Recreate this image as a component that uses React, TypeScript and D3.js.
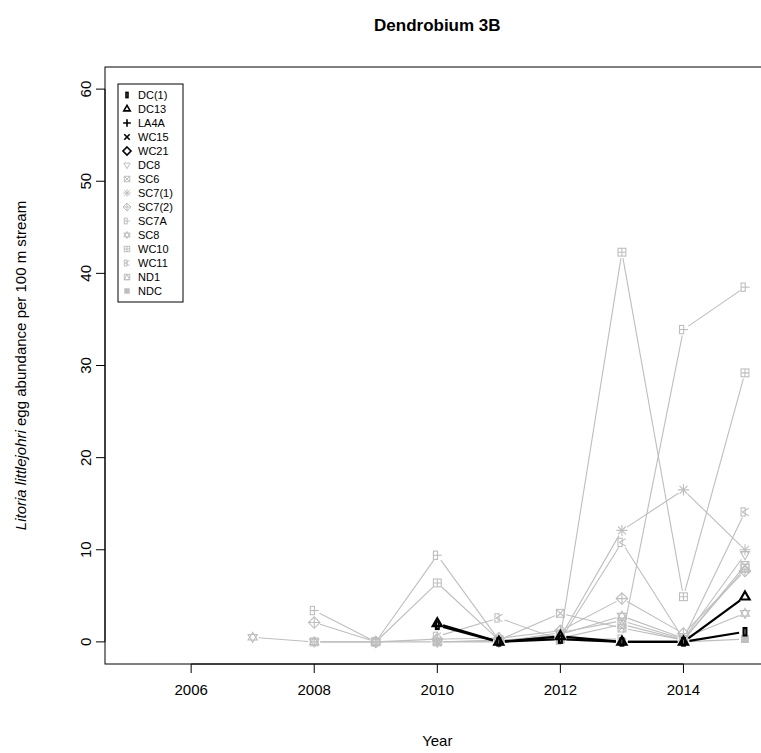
import React from 'react';
import * as d3 from 'd3';

// survey years and sites
const years = [2007, 2008, 2009, 2010, 2011, 2012, 2013, 2014, 2015];
const siteNames = ['DC(1)', 'DC13', 'LA4A', 'WC15', 'WC21', 'DC8', 'SC6', 'SC7(1)', 'SC7(2)', 'SC7A', 'SC8', 'WC10', 'WC11', 'ND1', 'NDC'];
const sitePch = [1, 2, 3, 4, 5, 6, 7, 8, 9, 10, 11, 12, 13, 14, 15];
const siteColors = ['#000000', '#000000', '#000000', '#000000', '#000000',
  '#bebebe', '#bebebe', '#bebebe', '#bebebe', '#bebebe', '#bebebe', '#bebebe', '#bebebe', '#bebebe', '#bebebe'];

// egg abundance per 100 m (null = not surveyed)
const DC1 = [null, null, null, 1.8, 0, 0.3, 0, 0, 1.1];
const DC13 = [null, null, null, 2.0, 0, 0.6, 0, 0, 4.9];
const LA4A = [null, null, null, null, null, null, null, null, null];
const WC15 = [null, null, null, null, null, null, null, null, null];
const WC21 = [null, null, null, null, null, null, null, null, null];
const DC8 = [null, null, null, null, 0, 1.0, 2.3, 0.3, 9.5];
const SC6 = [null, null, null, 0, 0.2, 3.1, 1.5, 0.2, 8.3];
const SC7_1 = [null, null, null, 0, 0.1, 0.5, 12.1, 16.5, 10.0];
const SC7_2 = [null, 2.1, 0, 0.3, 0.4, 1.2, 4.7, 0.9, 7.7];
const SC7A = [null, 3.4, 0, 9.4, 0.2, 0.3, 0.3, 33.9, 38.5];
const SC8 = [0.5, 0, 0, 0, 0, 0.8, 2.8, 0.4, 3.1];
const WC10 = [null, 0, 0, 6.4, 0.2, 0.5, 42.3, 4.9, 29.2];
const WC11 = [null, null, null, 0.6, 2.6, 0.2, 10.8, 0.3, 14.1];
const ND1 = [null, null, null, null, 0.1, 0.4, 1.9, 0.2, 8.0];
const NDC = [null, null, null, null, null, 0.2, 0, 0, 0.3];

const siteValues = [DC1, DC13, LA4A, WC15, WC21, DC8, SC6, SC7_1, SC7_2, SC7A, SC8, WC10, WC11, ND1, NDC];

const yTicks = [0, 10, 20, 30, 40, 50, 60];
const xTicks = [2006, 2008, 2010, 2012, 2014];

const W = 761;
const H = 753;
const box = { left: 105, right: 769.6, top: 67, bottom: 664 };

const font = '"Liberation Sans", Arial, Helvetica, sans-serif';

// R style plotting symbols
function Marker({ pch, cx, cy, r, color, sw }) {
  const p = { stroke: color, strokeWidth: sw, fill: 'none' };
  const sq = (k) => <rect x={cx - r * k} y={cy - r * k} width={2 * r * k} height={2 * r * k} {...p} />;
  const plus = (k) => <path d={`M${cx - r * k},${cy}H${cx + r * k}M${cx},${cy - r * k}V${cy + r * k}`} {...p} />;
  const cross = (k) => <path d={`M${cx - r * k},${cy - r * k}L${cx + r * k},${cy + r * k}M${cx - r * k},${cy + r * k}L${cx + r * k},${cy - r * k}`} {...p} />;
  const triUp = `M${cx},${cy - r * 1.15}L${cx + r},${cy + r * 0.6}L${cx - r},${cy + r * 0.6}Z`;
  const triDown = `M${cx},${cy + r * 1.15}L${cx + r},${cy - r * 0.6}L${cx - r},${cy - r * 0.6}Z`;
  const diamond = `M${cx},${cy - r * 1.25}L${cx + r * 1.25},${cy}L${cx},${cy + r * 1.25}L${cx - r * 1.25},${cy}Z`;
  switch (pch) {
    case 1:
      return <rect x={cx - r * 0.3} y={cy - r * 0.8} width={r * 0.6} height={r * 1.6} {...p} />;
    case 2:
      return <path d={triUp} {...p} />;
    case 3:
      return plus(1.2);
    case 4:
      return cross(0.85);
    case 5:
      return <path d={diamond} {...p} />;
    case 6:
      return <path d={triDown} {...p} />;
    case 7:
      return <g>{sq(0.85)}{cross(0.85)}</g>;
    case 8:
      return <g>{plus(1.2)}{cross(0.85)}</g>;
    case 9:
      return <g><path d={diamond} {...p} />{plus(1.25)}</g>;
    case 10:
      return <g>
        <rect x={cx - r * 0.85} y={cy - r * 0.9} width={r * 0.9} height={r * 1.8} {...p} />
        <path d={`M${cx - r * 0.85},${cy}H${cx + r}`} {...p} />
      </g>;
    case 11:
      return <g><path d={`M${cx},${cy - r * 1.1}L${cx + r},${cy + r * 0.6}L${cx - r},${cy + r * 0.6}Z`} {...p} />
        <path d={`M${cx},${cy + r * 1.1}L${cx + r},${cy - r * 0.6}L${cx - r},${cy - r * 0.6}Z`} {...p} /></g>;
    case 12:
      return <g>{sq(0.85)}{plus(0.85)}</g>;
    case 13:
      return <g>
        <rect x={cx - r * 0.85} y={cy - r * 0.9} width={r * 0.9} height={r * 1.8} {...p} />
        <path d={`M${cx - r * 0.6},${cy}L${cx + r * 0.8},${cy - r * 0.8}M${cx - r * 0.6},${cy}L${cx + r * 0.8},${cy + r * 0.8}`} {...p} />
      </g>;
    case 14:
      return <g>{sq(0.85)}<path d={`M${cx},${cy - r * 0.85}L${cx + r * 0.85},${cy + r * 0.85}L${cx - r * 0.85},${cy + r * 0.85}Z`} {...p} /></g>;
    case 15:
      return <rect x={cx - r * 0.85} y={cy - r * 0.85} width={r * 1.7} height={r * 1.7} fill={color} stroke="none" />;
    default:
      return sq(0.85);
  }
}

export default function App() {
  const x = d3.scaleLinear().domain([2004.6, 2015.4]).range([box.left, box.right]);
  const y = d3.scaleLinear().domain([-2.4, 62.4]).range([box.bottom, box.top]);

  const gap = 6;
  // type = "b": segments between adjacent points, cut short around the symbols
  const segments = [];
  siteValues.forEach((vals, si) => {
    for (let i = 0; i < vals.length - 1; i++) {
      const a = vals[i];
      const b = vals[i + 1];
      if (a === null || b === null) continue;
      const x1 = x(years[i]), y1 = y(a), x2 = x(years[i + 1]), y2 = y(b);
      const len = Math.hypot(x2 - x1, y2 - y1);
      if (len <= 2 * gap) continue;
      const ux = (x2 - x1) / len, uy = (y2 - y1) / len;
      segments.push({
        key: `${si}-${i}`, si,
        x1: x1 + ux * gap, y1: y1 + uy * gap, x2: x2 - ux * gap, y2: y2 - uy * gap
      });
    }
  });

  const points = [];
  siteValues.forEach((vals, si) => {
    vals.forEach((v, i) => {
      if (v !== null) points.push({ key: `${si}-${i}`, si, cx: x(years[i]), cy: y(v) });
    });
  });

  // draw grey sites first so the black ones sit on top
  const order = (si) => (siteColors[si] === '#000000' ? 1 : 0);
  segments.sort((a, b) => order(a.si) - order(b.si));
  points.sort((a, b) => order(a.si) - order(b.si));

  const legendX = 118, legendY = 84, legendW = 65, legendStep = 14;

  return (
    <svg width={W} height={H} style={{ position: 'absolute', left: 0, top: 0, background: '#fff' }} fontFamily={font}>
      <rect x={0} y={0} width={W} height={H} fill="#fff" />
      <text x={(box.left + box.right) / 2} y={31} textAnchor="middle" fontWeight="bold" fontSize={17}>Dendrobium 3B</text>

      <defs>
        <clipPath id="plotClip">
          <rect x={box.left} y={box.top} width={box.right - box.left} height={box.bottom - box.top} />
        </clipPath>
      </defs>

      <g clipPath="url(#plotClip)">
        {segments.map((s) => (
          <line key={s.key} x1={s.x1} y1={s.y1} x2={s.x2} y2={s.y2}
            stroke={siteColors[s.si]} strokeWidth={siteColors[s.si] === '#000000' ? 2.2 : 1.1} />
        ))}
        {points.map((p) => (
          <Marker key={p.key} pch={sitePch[p.si]} cx={p.cx} cy={p.cy} r={4.6}
            color={siteColors[p.si]} sw={siteColors[p.si] === '#000000' ? 2.2 : 1.1} />
        ))}
      </g>

      {/* box */}
      <rect x={box.left} y={box.top} width={box.right - box.left} height={box.bottom - box.top} fill="none" stroke="#000" strokeWidth={1} />

      {/* y axis */}
      <line x1={box.left} x2={box.left} y1={y(0)} y2={y(60)} stroke="#000" />
      {yTicks.map((t) => (
        <g key={t}>
          <line x1={box.left - 9} x2={box.left} y1={y(t)} y2={y(t)} stroke="#000" />
          <text transform={`translate(${box.left - 14},${y(t)}) rotate(-90)`} textAnchor="middle" fontSize={15}>{t}</text>
        </g>
      ))}

      {/* x axis */}
      <line x1={x(2006)} x2={x(2014)} y1={box.bottom} y2={box.bottom} stroke="#000" />
      {xTicks.map((t) => (
        <g key={t}>
          <line x1={x(t)} x2={x(t)} y1={box.bottom} y2={box.bottom + 9} stroke="#000" />
          <text x={x(t)} y={box.bottom + 31} textAnchor="middle" fontSize={15}>{t}</text>
        </g>
      ))}

      <text x={(box.left + box.right) / 2} y={746} textAnchor="middle" fontSize={15}>Year</text>
      <text transform={`translate(26,${(box.top + box.bottom) / 2}) rotate(-90)`} textAnchor="middle" fontSize={15}>
        <tspan fontStyle="italic">Litoria littlejohri</tspan> egg abundance per 100 m stream
      </text>

      {/* legend */}
      <rect x={legendX} y={legendY} width={legendW} height={legendStep * siteNames.length + 8} fill="#fff" stroke="#000" />
      {siteNames.map((n, i) => (
        <g key={n}>
          <Marker pch={sitePch[i]} cx={legendX + 9} cy={legendY + 11 + i * legendStep} r={3.2}
            color={siteColors[i]} sw={siteColors[i] === '#000000' ? 1.6 : 1} />
          <text x={legendX + 20} y={legendY + 15 + i * legendStep} fontSize={11}>{n}</text>
        </g>
      ))}
    </svg>
  );
}
